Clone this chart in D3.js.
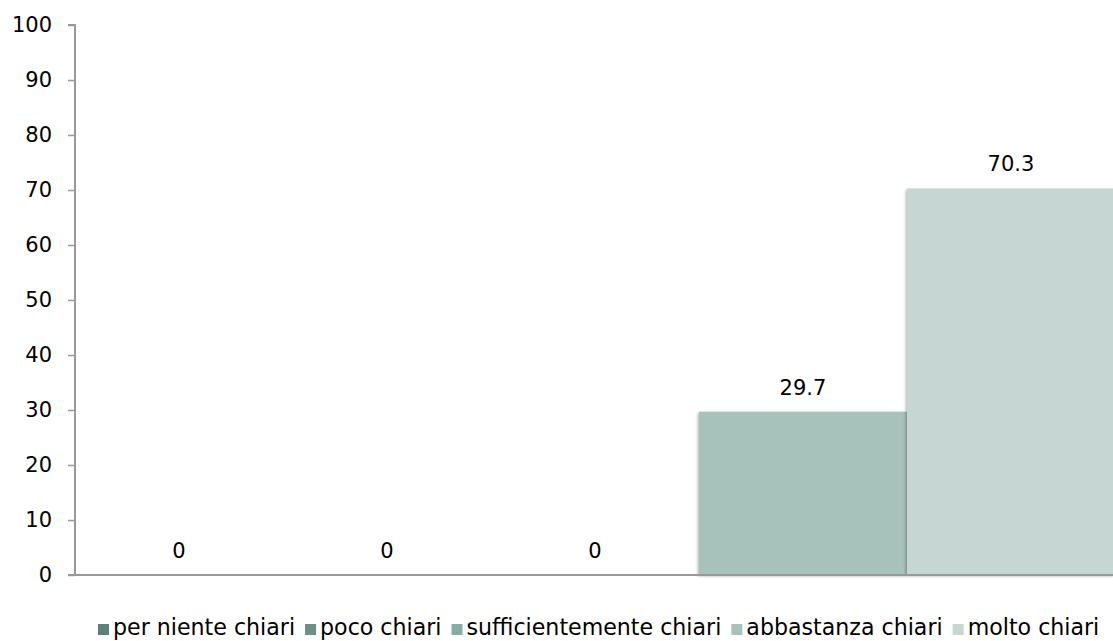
<!DOCTYPE html>
<html><head><meta charset="utf-8">
<script src="https://cdn.jsdelivr.net/npm/d3@7"></script>
<style>
html,body{margin:0;padding:0;background:#fff;}
svg text{font-family:"DejaVu Sans",sans-serif;fill:#000;}
</style></head>
<body><svg id="c" width="1113" height="641"></svg>
<script>
const seriesNames = ["per niente chiari","poco chiari","sufficientemente chiari","abbastanza chiari","molto chiari"];
const seriesValues = [0, 0, 0, 29.7, 70.3];
const seriesColors = ["#5E8078","#6C8F86","#86ADA3","#A7C2BB","#C6D6D3"];
const yTicks = [0,10,20,30,40,50,60,70,80,90,100];

const svg = d3.select("#c");
const margin = {left:75, top:25, bottom:66};
const W = 1113, H = 641;
const x = d3.scaleBand().domain(seriesNames).range([margin.left, margin.left + 5*208]).padding(0);
const y = d3.scaleLinear().domain([0,100]).range([H - margin.bottom, margin.top]);

const defs = svg.append("defs");
const f = defs.append("filter").attr("id","sh").attr("x","-10%").attr("y","-10%").attr("width","120%").attr("height","120%");
f.append("feDropShadow").attr("dx",-1.5).attr("dy",1.5).attr("stdDeviation",1.2).attr("flood-color","#000").attr("flood-opacity",0.25);

svg.append("g").selectAll("rect").data(seriesNames).join("rect")
  .attr("x", d => x(d))
  .attr("width", x.bandwidth())
  .attr("y", (d,i) => y(seriesValues[i]))
  .attr("height", (d,i) => y(0) - y(seriesValues[i]))
  .attr("fill", (d,i) => seriesColors[i])
  .attr("filter","url(#sh)");

// axes
const yAxis = d3.axisLeft(y).tickValues(yTicks).tickSize(7).tickPadding(16).tickFormat(d3.format("d"));
const gy = svg.append("g").attr("transform",`translate(${margin.left},0)`).call(yAxis);
gy.select(".domain").attr("stroke","#999").attr("stroke-width",2).attr("d",`M-7,${y(100)}H0V${y(0)}`);
gy.selectAll(".tick line").attr("stroke","#999").attr("stroke-width",1.5);
gy.selectAll(".tick text").attr("font-size",21).attr("font-family","'DejaVu Sans',sans-serif").attr("fill","#000");

svg.append("line").attr("x1",margin.left-7).attr("x2",W).attr("y1",y(0)).attr("y2",y(0))
  .attr("stroke","#999").attr("stroke-width",2);

// value labels
svg.append("g").selectAll("text").data(seriesNames).join("text")
  .attr("x", d => x(d) + x.bandwidth()/2)
  .attr("y", (d,i) => y(seriesValues[i]) - 17)
  .attr("text-anchor","middle").attr("font-size",21)
  .text((d,i) => d3.format("")(seriesValues[i]));

// legend
const lg = svg.append("g").attr("transform",`translate(0,635)`);
const startX = 98, endX = 1100, sq = 11, g1 = 4, g2 = 10;
const texts = seriesNames.map(n => lg.append("text").attr("font-size",20).attr("y",0).text(n));
const totalText = d3.sum(texts, t => t.node().getComputedTextLength());
const avail = (endX - startX) - seriesNames.length*(sq+g1) - (seriesNames.length-1)*g2;
const fs = 20 * avail / totalText;
texts.forEach(t => t.attr("font-size", fs));
let cx = startX;
seriesNames.forEach((n,i) => {
  lg.append("rect").attr("x",cx).attr("y",-11).attr("width",sq).attr("height",sq).attr("fill",seriesColors[i]);
  texts[i].attr("x", cx + sq + g1);
  cx += sq + g1 + texts[i].node().getComputedTextLength() + g2;
});
</script></body></html>
